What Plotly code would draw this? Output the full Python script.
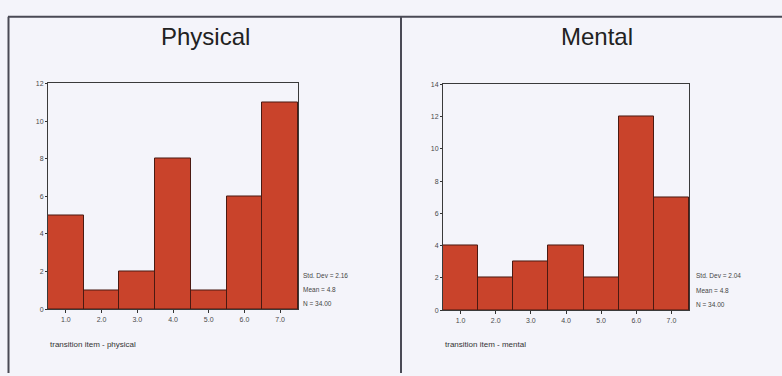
import plotly.graph_objects as go

W, H = 782, 376

categories = [1, 2, 3, 4, 5, 6, 7]
tick_labels = ["1.0", "2.0", "3.0", "4.0", "5.0", "6.0", "7.0"]
physical_counts = [5, 1, 2, 8, 1, 6, 11]
mental_counts = [4, 2, 3, 4, 2, 12, 7]
panel_titles = ["Physical", "Mental"]
axis_titles = ["transition item - physical", "transition item - mental"]
stats_physical = ["Std. Dev = 2.16", "Mean = 4.8", "N = 34.00"]
stats_mental = ["Std. Dev = 2.04", "Mean = 4.8", "N = 34.00"]
y_max = [12, 14]

BG = "#f4f4fa"
BAR = "#c9432b"
EDGE = "#4a1a12"
FONT = "Liberation Sans, Arial, sans-serif"


def px_x(x):
    return x / W


def px_y(y):
    return 1 - y / H


fig = go.Figure()

fig.add_trace(go.Bar(x=categories, y=physical_counts, width=1.0,
                     marker=dict(color=BAR, line=dict(color=EDGE, width=1)),
                     xaxis="x", yaxis="y", showlegend=False, hoverinfo="skip"))
fig.add_trace(go.Bar(x=categories, y=mental_counts, width=1.0,
                     marker=dict(color=BAR, line=dict(color=EDGE, width=1)),
                     xaxis="x2", yaxis="y2", showlegend=False, hoverinfo="skip"))

plots = [
    dict(x0=48, x1=298, y0=81, y1=311),
    dict(x0=443, x1=689, y0=82, y1=312),
]

axis_common = dict(showgrid=False, zeroline=False, showline=True, mirror=True,
                   linecolor="#3a3a3a", linewidth=1,
                   tickfont=dict(family=FONT, size=7, color="#4a4a4a"),
                   ticks="outside", ticklen=2, tickcolor="#333333")

layout = dict(
    width=W, height=H,
    margin=dict(l=0, r=0, t=0, b=0),
    paper_bgcolor=BG, plot_bgcolor=BG,
    bargap=0,
    font=dict(family=FONT),
)

for i, p in enumerate(plots):
    sfx = "" if i == 0 else str(i + 1)
    layout["xaxis" + sfx] = dict(
        axis_common,
        domain=[px_x(p["x0"]), px_x(p["x1"])],
        anchor="y" + sfx,
        range=[0.5, 7.5],
        tickvals=categories, ticktext=tick_labels,
        ticklen=3,
    )
    layout["yaxis" + sfx] = dict(
        axis_common,
        domain=[px_y(p["y1"]), px_y(p["y0"])],
        anchor="x" + sfx,
        range=[0, y_max[i]],
        tickvals=list(range(0, y_max[i] + 1, 2)),
    )

fig.update_layout(**layout)

# panel frame lines
shapes = [
    dict(type="line", xref="paper", yref="paper", x0=px_x(8), x1=1, y0=px_y(13), y1=px_y(13),
         line=dict(color="#4a4a55", width=2)),
    dict(type="line", xref="paper", yref="paper", x0=px_x(8.5), x1=px_x(8.5), y0=px_y(13), y1=0,
         line=dict(color="#4a4a55", width=2)),
    dict(type="line", xref="paper", yref="paper", x0=px_x(401), x1=px_x(401), y0=px_y(13), y1=0,
         line=dict(color="#4a4a55", width=2)),
]
fig.update_layout(shapes=shapes)

ann = []
title_x = [205, 597]
stat_x = [301, 694]
stats_all = [stats_physical, stats_mental]
stat_y = [[277, 291, 305], [277, 292, 306]]
for i in range(2):
    ann.append(dict(text=panel_titles[i], x=px_x(title_x[i]), y=px_y(33), xref="paper", yref="paper",
                    xanchor="center", yanchor="middle", showarrow=False,
                    font=dict(family=FONT, size=24, color="#222222")))
    for j, s in enumerate(stats_all[i]):
        ann.append(dict(text=s, x=px_x(stat_x[i]), y=px_y(stat_y[i][j]), xref="paper", yref="paper",
                        xanchor="left", yanchor="middle", showarrow=False,
                        font=dict(family=FONT, size=6.5, color="#444444")))
    ann.append(dict(text=axis_titles[i], x=px_x(plots[i]["x0"]), y=px_y(347), xref="paper", yref="paper",
                    xanchor="left", yanchor="middle", showarrow=False,
                    font=dict(family=FONT, size=8, color="#333333")))
fig.update_layout(annotations=ann)

fig.write_html(
    "out.html",
    config={"displayModeBar": False},
    post_script="document.body.style.margin='0';document.body.style.padding='0';"
                "document.body.style.background='" + BG + "';",
)
